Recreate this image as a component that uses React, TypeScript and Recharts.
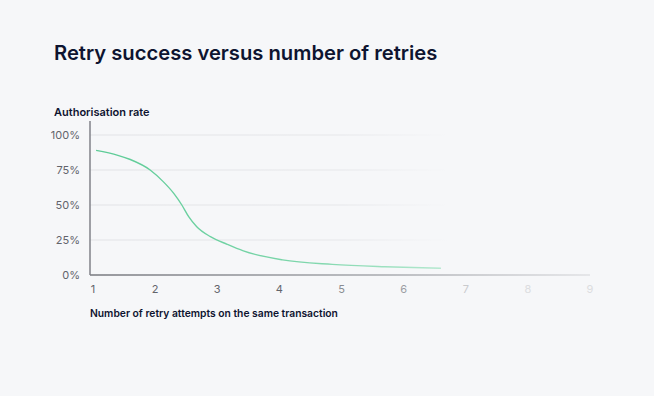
import { CartesianGrid, Line, LineChart, XAxis, YAxis } from "recharts";

const attempts = [1.05, 1.4, 1.6, 1.92, 2.13, 2.3, 2.43, 2.54, 2.67, 2.89, 3.16, 3.42, 4.05, 4.85, 5.7, 6.6];
const authRate = [89, 85.5, 82.5, 75, 66.7, 58.3, 50, 41.7, 34.5, 27.4, 21.9, 17.2, 10.8, 7.6, 5.9, 4.8];
const xTicks = [1, 2, 3, 4, 5, 6, 7, 8, 9];
const yTicks = [0, 25, 50, 75, 100];
const gridValues = [25, 50, 75, 100];
const xTickColors = ["#62646b", "#62646b", "#62646b", "#62646b", "#8a8c92", "#9c9ea3", "#c9cacd", "#dcdde0", "#dcdde0"];

const data = attempts.map((a, i) => ({ attempt: a, rate: authRate[i] }));

const font = "Inter, 'Open Sans', sans-serif";

function XTick(props: any) {
  const { x, y, payload, index } = props;
  return (
    <text x={x} y={y} dy="0.71em" textAnchor="middle" fontSize={11} fontFamily={font} fill={xTickColors[index] || "#ddd"}>
      {payload.value}
    </text>
  );
}

export default function App() {
  return (
    <div style={{ position: "fixed", left: 0, top: 0, width: 654, height: 396, background: "#f6f7f9", fontFamily: font }}>
      <div style={{ position: "absolute", left: 54, top: 40, fontSize: 20.2, fontWeight: 600, color: "#0e1430", whiteSpace: "nowrap" }}>
        Retry success versus number of retries
      </div>
      <div style={{ position: "absolute", left: 54, top: 104.5, fontSize: 11, fontWeight: 600, color: "#0e1430", whiteSpace: "nowrap" }}>
        Authorisation rate
      </div>
      <div style={{ position: "absolute", left: 90, top: 307, fontSize: 10.3, fontWeight: 600, color: "#0e1430", whiteSpace: "nowrap" }}>
        Number of retry attempts on the same transaction
      </div>
      <div style={{ position: "absolute", left: 0, top: 0 }}>
        <LineChart width={654} height={396} data={data} margin={{ top: 121, right: 64, bottom: 91, left: 0 }}>
          <defs>
            <linearGradient id="gridFade" gradientUnits="userSpaceOnUse" x1="90" y1="0" x2="590" y2="0">
              <stop offset="0%" stopColor="#e2e3e6" />
              <stop offset="50%" stopColor="#e6e7ea" />
              <stop offset="72%" stopColor="#f6f7f9" />
            </linearGradient>
            <linearGradient id="axisFade" gradientUnits="userSpaceOnUse" x1="90" y1="0" x2="590" y2="0">
              <stop offset="0%" stopColor="#77797f" />
              <stop offset="60%" stopColor="#a9abb0" />
              <stop offset="100%" stopColor="#e0e1e4" />
            </linearGradient>
            <linearGradient id="lineFade" gradientUnits="userSpaceOnUse" x1="93" y1="0" x2="442" y2="0">
              <stop offset="0%" stopColor="#5ccb96" />
              <stop offset="60%" stopColor="#7dd6ab" />
              <stop offset="100%" stopColor="#b4e8cf" />
            </linearGradient>
          </defs>
          <CartesianGrid
            vertical={false}
            stroke="url(#gridFade)"
            horizontalValues={gridValues}
          />
          <XAxis
            dataKey="attempt"
            type="number"
            domain={[1, 9]}
            ticks={xTicks}
            padding={{ left: 3, right: 0 }}
            tickLine={false}
            tickSize={0}
            tickMargin={10}
            height={30}
            axisLine={{ stroke: "url(#axisFade)", strokeWidth: 1.5 }}
            tick={<XTick />}
            interval={0}
          />
          <YAxis
            type="number"
            domain={[0, 110]}
            ticks={yTicks}
            width={90}
            tickLine={false}
            tickSize={0}
            tickMargin={10}
            axisLine={{ stroke: "#808288", strokeWidth: 1.5 }}
            tick={{ fontSize: 11, fill: "#62646b", fontFamily: font }}
            tickFormatter={(v: number) => `${v}%`}
          />
          <Line
            type="monotone"
            dataKey="rate"
            stroke="url(#lineFade)"
            strokeWidth={1.4}
            dot={false}
            isAnimationActive={false}
          />
        </LineChart>
      </div>
    </div>
  );
}
